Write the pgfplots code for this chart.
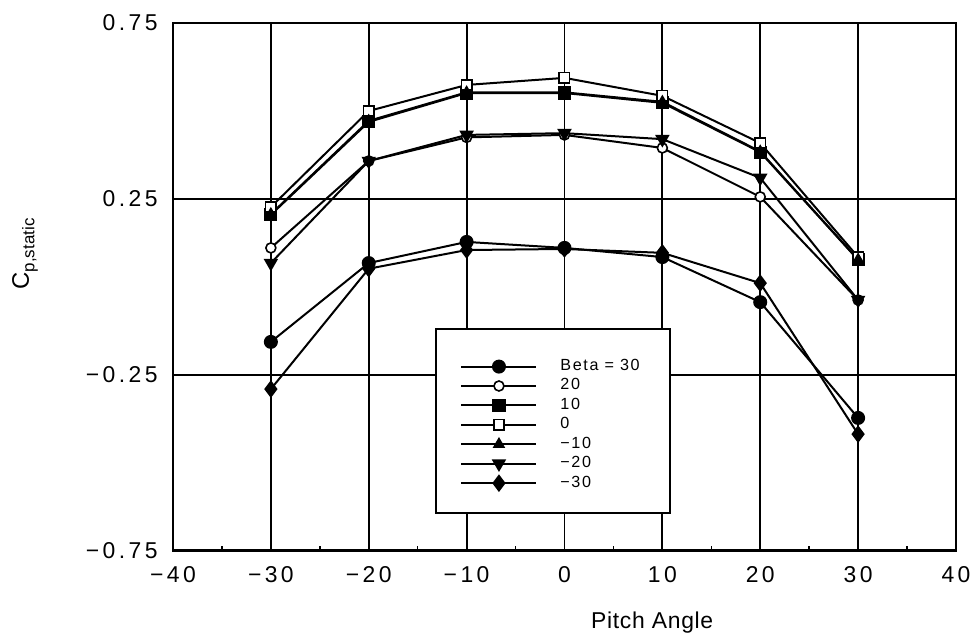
\documentclass[border=0pt]{standalone}
\usepackage{pgfplots}
\pgfplotsset{compat=1.18}
\usepackage{fontspec}
\setmainfont{Liberation Sans}
\newfontfamily\tickfont[LetterSpace=15]{Liberation Sans}
\newfontfamily\labfont[LetterSpace=3]{Liberation Sans}
\newfontfamily\legfont[LetterSpace=10]{Liberation Sans}
\begin{document}
\begin{tikzpicture}
\begin{axis}[
  at={(0,0)}, anchor=south west,
  scale only axis, width=391.5bp, height=264bp,
  xmin=-40, xmax=40, ymin=-0.75, ymax=0.75,
  xtick={-40,-30,...,40}, ytick={-0.75,-0.25,0.25,0.75},
  xticklabels={−40,−30,−20,−10,0,10,20,30,40},
  yticklabels={−0.75,−0.25,0.25,0.75},
  minor xtick={-35,-25,...,35},
  xtick pos=lower, ytick pos=left, tick align=inside,
  major tick length=0pt, minor tick length=2.5bp,
  grid=major, major grid style={black, line width=0.9bp},
  axis line style={black, line width=1bp},
  minor tick style={black, line width=0.7bp},
  ticklabel style={font=\tickfont\fontsize{11.5}{13}\selectfont},
  xticklabel style={inner sep=0pt, anchor=north, yshift=-7.5bp},
  yticklabel style={inner sep=0pt, anchor=east, xshift=-7.5bp},
  xlabel={Pitch Angle},
  xlabel style={font=\labfont\fontsize{11.5}{13}\selectfont, inner sep=0pt, at={(axis description cs:0.612,-0.135)}, anchor=center},
  ylabel={C\raisebox{-0.45ex}{\fontsize{8.5}{9}\selectfont p,static}},
  ylabel style={font=\fontsize{12}{14}\selectfont, inner sep=0pt, at={(axis description cs:-0.189,0.5625)}, anchor=center},
  every axis plot/.append style={black, solid, line width=1bp, mark size=3bp},
  legend image code/.code={\draw[#1, line width=1bp, mark repeat=2, mark phase=2] plot coordinates {(0bp,0bp) (18.75bp,0bp) (37.5bp,0bp)};},
  legend style={at={(axis cs:-10.67,-0.392)}, anchor=west, draw=none, fill=none, inner sep=0pt,
    row sep=2.7bp, column sep=11.5bp,
    nodes={inner sep=0pt, text height=5.5bp, text depth=1.5bp, anchor=west},
    font=\legfont\fontsize{8.1}{9}\selectfont},
  legend cell align=left,
]
\draw[black, line width=0.9bp, fill=white] (axis cs:-13.1,-0.119) rectangle (axis cs:10.8,-0.642);

\addplot[black, mark=*, mark options={fill=black}] coordinates {(-30,-0.156) (-20,0.068) (-10,0.128) (0,0.111) (10,0.085) (20,-0.043) (30,-0.372)};
\addlegendentry{Beta = 30}
\addplot[black, mark=*, mark size=2.5bp, mark options={fill=white, line width=0.8bp}] coordinates {(-30,0.111) (-20,0.358) (-10,0.425) (0,0.432) (10,0.395) (20,0.256) (30,-0.037)};
\addlegendentry{20}
\addplot[black, mark=square*, mark size=2.8bp, mark options={fill=black}] coordinates {(-30,0.205) (-20,0.469) (-10,0.551) (0,0.551) (10,0.523) (20,0.383) (30,0.077)};
\addlegendentry{10}
\addplot[black, mark=square*, mark size=2.6bp, mark options={fill=white, line width=0.8bp}] coordinates {(-30,0.227) (-20,0.50) (-10,0.574) (0,0.594) (10,0.543) (20,0.409) (30,0.085)};
\addlegendentry{0}
\addplot[black, mark=triangle*, mark size=2.6bp, mark options={fill=black}] coordinates {(-30,0.207) (-20,0.472) (-10,0.553) (0,0.553) (10,0.526) (20,0.385) (30,0.078)};
\addlegendentry{−10}
\addplot[black, mark=triangle*, mark size=3.2bp, mark options={fill=black, rotate=180}] coordinates {(-30,0.068) (-20,0.358) (-10,0.432) (0,0.437) (10,0.42) (20,0.31) (30,-0.037)};
\addlegendentry{−20}
\addplot[black, mark=diamond*, mark size=3.6bp, mark options={fill=black}] coordinates {(-30,-0.290) (-20,0.052) (-10,0.105) (0,0.108) (10,0.097) (20,0.011) (30,-0.418)};
\addlegendentry{−30}

\draw[black, line width=1.6bp] (rel axis cs:0,0) -- (rel axis cs:1,0);
\end{axis}
\pgfresetboundingbox
\path (-86.5bp,-42.5bp) rectangle (401.5bp,275.5bp);
\end{tikzpicture}
\end{document}
